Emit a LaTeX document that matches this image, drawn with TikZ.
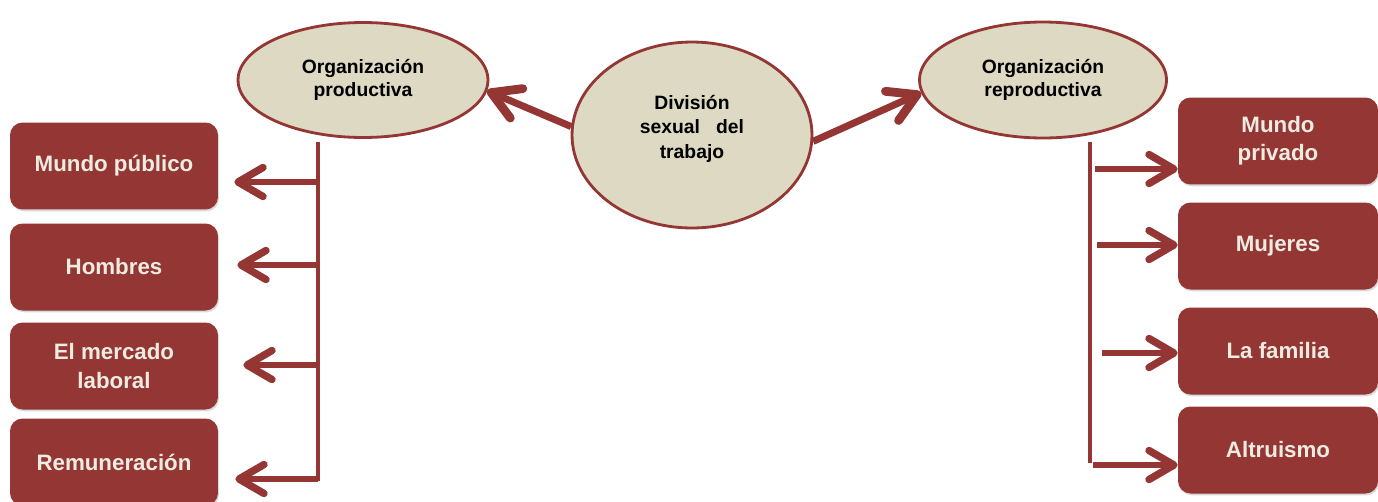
\documentclass[tikz,border=0pt]{standalone}
\usepackage{fontspec}
\setmainfont{Liberation Sans}
\usetikzlibrary{arrows.meta,shapes.geometric,shadows}
\definecolor{vino}{HTML}{943634}
\definecolor{crema}{HTML}{EEECE1}
\definecolor{arena}{HTML}{DDD9C3}

\begin{document}
\begin{tikzpicture}[x=0.02cm,y=-0.02cm,
	idea/.style={ellipse,draw=vino,line width=1.6pt,fill=arena,inner sep=0pt,align=center,font=\bfseries\fontsize{11}{13.4}\selectfont},
	caja/.style={rounded corners=0.25cm,fill=vino,text=crema,minimum width=4.16cm,minimum height=1.74cm,align=center,font=\bfseries\fontsize{12.7}{16}\selectfont,drop shadow={opacity=0.3,shadow xshift=0.6pt,shadow yshift=-1pt}},
	linea/.style={draw=vino,line width=2.4pt},
	flecha/.style={draw=vino,line width=3pt,-{Straight Barb[length=0.5cm,width=0.58cm,line width=4.2pt,round]}},
	gruesa/.style={draw=vino,line width=4pt,-{Straight Barb[length=0.55cm,width=0.64cm,line width=5pt,round]}}]
		\useasboundingbox (0,0) rectangle (1378,501);
		\node[idea,minimum width=4.8cm,minimum height=3.72cm,font=\bfseries\fontsize{11}{13.8}\selectfont](div) at (692,135){Divisi\'on\\sexual~~~del\\trabajo\\[-0.16cm]};
		\node[idea,minimum width=5cm,minimum height=2.3cm](prod) at (363,80){Organizaci\'on\\productiva};
		\node[idea,minimum width=4.94cm,minimum height=2.32cm](rep) at (1043,80){Organizaci\'on\\reproductiva};
		\draw[gruesa](div.176)--(prod.-5);
		\draw[gruesa](div.-3)--(rep.186);
		% lado productivo
		\node[caja](pub) at (114,166){Mundo p\'ublico};
		\node[caja](hom) at (114,267){Hombres};
		\node[caja](mer) at (114,366){El mercado\\laboral};
		\node[caja](rem) at (114,462){Remuneraci\'on};
		\coordinate(ltop) at (318,142);
		\coordinate(lbot) at (318,481);
		\draw[linea](ltop)--(lbot);
		\coordinate(l1) at (318,182);
		\coordinate(l2) at (318,265);
		\coordinate(l3) at (318,365);
		\coordinate(l4) at (318,479);
		\draw[flecha,shorten >=0.32cm](l1)--(l1-|pub.east);
		\draw[flecha,shorten >=0.38cm](l2)--(l2-|hom.east);
		\draw[flecha,shorten >=0.5cm](l3)--(l3-|mer.east);
		\draw[flecha,shorten >=0.34cm](l4)--(l4-|rem.east);
		% lado reproductivo
		\node[caja,minimum width=4.0cm](pri) at (1278,141){Mundo\\privado};
		\node[caja,minimum width=4.0cm](muj) at (1278,246){Mujeres};
		\node[caja,minimum width=4.0cm](fam) at (1278,351){La familia};
		\node[caja,minimum width=4.0cm](alt) at (1278,450){Altruismo};
		\coordinate(rtop) at (1090,142);
		\coordinate(rbot) at (1090,463);
		\draw[linea](rtop)--(rbot);
		\coordinate(r1) at (1095,169);
		\coordinate(r2) at (1097,245);
		\coordinate(r3) at (1102,353);
		\coordinate(r4) at (1093,465);
		\draw[flecha](r1)--(r1-|pri.west);
		\draw[flecha](r2)--(r2-|muj.west);
		\draw[flecha](r3)--(r3-|fam.west);
		\draw[flecha](r4)--(r4-|alt.west);
\end{tikzpicture}
\end{document}
